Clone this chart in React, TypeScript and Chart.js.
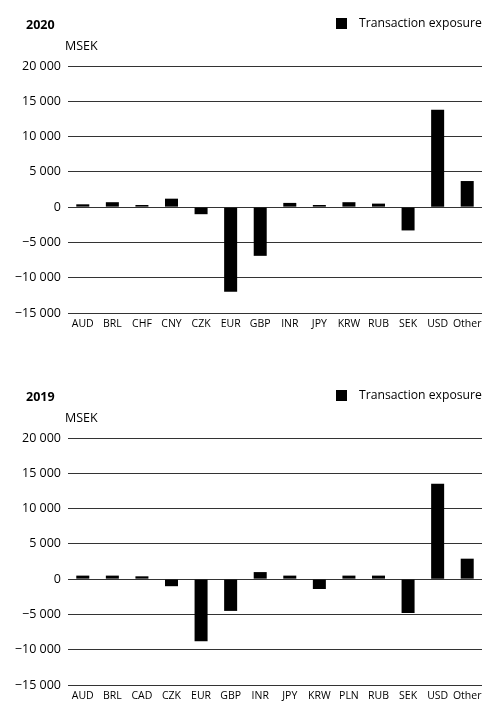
import React, { useEffect, useRef } from "react";
import { Chart, registerables } from "chart.js";

Chart.register(...registerables);

const categories2020 = ["AUD", "BRL", "CHF", "CNY", "CZK", "EUR", "GBP", "INR", "JPY", "KRW", "RUB", "SEK", "USD", "Other"];
const exposure2020 = [400, 700, 300, 1200, -1000, -12000, -6900, 600, 300, 700, 500, -3300, 13800, 3700];

const categories2019 = ["AUD", "BRL", "CAD", "CZK", "EUR", "GBP", "INR", "JPY", "KRW", "PLN", "RUB", "SEK", "USD", "Other"];
const exposure2019 = [500, 500, 400, -1000, -8800, -4500, 1000, 500, -1400, 500, 500, -4800, 13500, 2900];

const yMin = -15000;
const yMax = 20000;
const yStep = 5000;
const seriesLabel = "Transaction exposure";
const unitLabel = "MSEK";

const FONT = "'Open Sans', 'Noto Sans', sans-serif";

function fmt(v: number): string {
  const abs = Math.abs(v);
  const s = abs >= 1000 ? Math.floor(abs / 1000) + " " + String(abs % 1000).padStart(3, "0") : String(abs);
  return (v < 0 ? "\u2212" : "") + s;
}

const headerPlugin = {
  id: "header",
  afterDraw(chart: any, _args: any, opts: any) {
    const ctx = chart.ctx;
    ctx.save();
    ctx.fillStyle = "#000";
    ctx.textBaseline = "middle";
    ctx.textAlign = "left";
    ctx.font = `bold 12.5px ${FONT}`;
    ctx.fillText(opts.title, 26, 25);
    ctx.font = `12.5px ${FONT}`;
    ctx.fillText(unitLabel, 65, 46.5);
    ctx.fillRect(336, 18, 11, 11);
    ctx.font = `12.2px ${FONT}`;
    ctx.fillText(seriesLabel, 359, 24);
    ctx.restore();
  },
};

function BarChart({ title, labels, values }: { title: string; labels: string[]; values: number[] }) {
  const ref = useRef<HTMLCanvasElement>(null);
  useEffect(() => {
    if (!ref.current) return;
    const chart = new Chart(ref.current, {
      type: "bar",
      data: {
        labels,
        datasets: [
          {
            label: seriesLabel,
            data: values,
            backgroundColor: "#000",
            borderWidth: 0,
            barPercentage: 0.44,
            categoryPercentage: 1,
          },
        ],
      },
      options: {
        responsive: false,
        animation: false,
        devicePixelRatio: 1,
        layout: { padding: { top: 66, left: 0, right: 1, bottom: 0 } },
        plugins: {
          legend: { display: false },
          title: { display: false },
          tooltip: { enabled: false },
          header: { title },
        } as any,
        scales: {
          x: {
            grid: { display: false, drawTicks: false },
            border: { display: false },
            ticks: { color: "#000", font: { family: FONT, size: 10.5 }, padding: 5, maxRotation: 0, autoSkip: false },
            afterFit: (s: any) => {
              s.height = 27;
              s.paddingLeft = 0;
              s.paddingRight = 0;
            },
          },
          y: {
            min: yMin,
            max: yMax,
            grid: { color: "#333", lineWidth: 1, drawTicks: false },
            border: { display: false },
            ticks: {
              stepSize: yStep,
              color: "#000",
              font: { family: FONT, size: 12.5 },
              padding: 7,
              callback: (v: any) => fmt(Number(v)),
            },
            afterFit: (s: any) => {
              s.width = 68;
              s.paddingTop = 0;
              s.paddingBottom = 0;
            },
          },
        },
      },
      plugins: [headerPlugin],
    });
    return () => chart.destroy();
  }, []);
  return <canvas ref={ref} width={483} height={340} style={{ display: "block", width: 483, height: 340 }} />;
}

export default function App() {
  return (
    <div style={{ position: "fixed", left: 0, top: 0, width: 483, height: 702, overflow: "hidden", background: "#fff" }}>
      <div style={{ position: "absolute", left: 0, top: 0 }}>
        <BarChart title="2020" labels={categories2020} values={exposure2020} />
      </div>
      <div style={{ position: "absolute", left: 0, top: 372 }}>
        <BarChart title="2019" labels={categories2019} values={exposure2019} />
      </div>
    </div>
  );
}
